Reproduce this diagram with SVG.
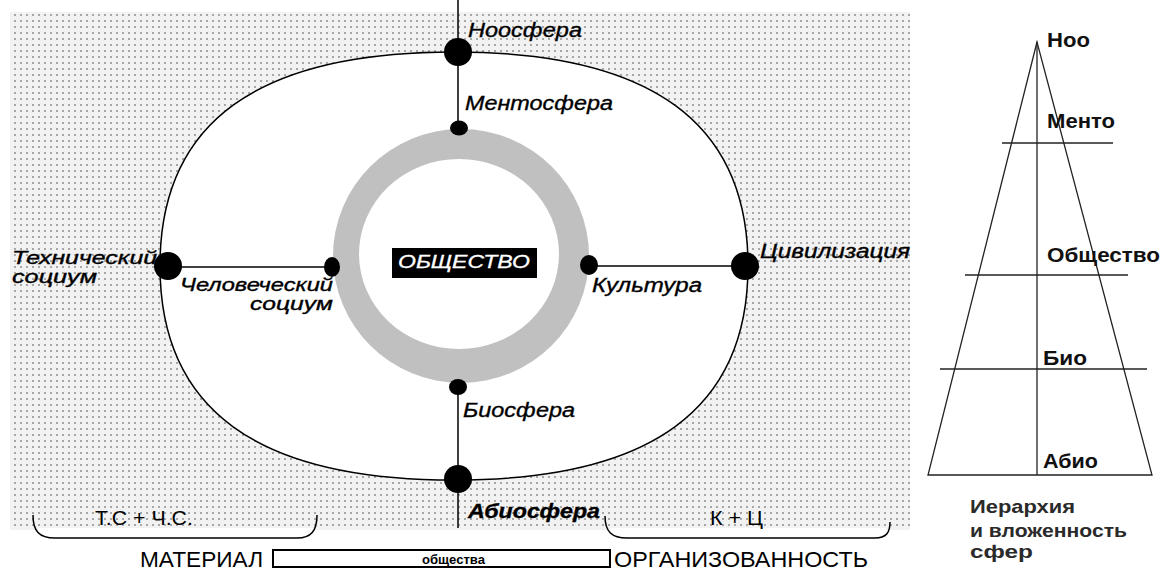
<svg xmlns="http://www.w3.org/2000/svg" width="1162" height="570" viewBox="0 0 1162 570">
<style>
  .it{font-family:"Liberation Sans",Arial,sans-serif;font-style:italic;font-size:20px;fill:#000;stroke:#000;stroke-width:0.35}
  .it2{font-size:18px}
  .rg{font-family:"Liberation Sans",Arial,sans-serif;font-size:21px;fill:#000}
  .bd{font-family:"Liberation Sans",Arial,sans-serif;font-weight:bold;font-size:21px;fill:#111}
  .cap{font-family:"Liberation Sans",Arial,sans-serif;font-weight:bold;font-size:19px;fill:#2a2a2a}
  .ln{stroke:#000;stroke-width:1.5;fill:none}
  .pl{stroke:#222;stroke-width:1.3;fill:none}
  .big{fill:#000}
</style>
<defs>
  <pattern id="dots" width="6" height="6" patternUnits="userSpaceOnUse">
    <rect width="6" height="6" fill="#f2f2f2"/>
    <rect x="2.4" y="2.4" width="1.2" height="1.2" fill="#222"/>
  </pattern>
</defs>
<rect width="1162" height="570" fill="#fff"/>
<g id="background">
  <rect x="10" y="12" width="900" height="518" fill="url(#dots)"/>
  <path id="outer-sphere" d="M454,52 C651,52 748,122.6 748,266 C748,409.4 651,480 454,480 C257,480 160,409.4 160,266 C160,122.6 257,52 454,52 Z" fill="#fff" stroke="#000" stroke-width="1.5"/>
  <path id="ring" d="M333,256 a128,127 0 1,0 256,0 a128,127 0 1,0 -256,0 Z M359,254 a100,95 0 1,0 200,0 a100,95 0 1,0 -200,0 Z" fill="#c0c0c0" fill-rule="evenodd"/>
</g>
<g id="connectors">
  <line class="ln" x1="458" y1="0" x2="458" y2="128"/>
  <line class="ln" x1="458" y1="387" x2="458" y2="528"/>
  <line class="ln" x1="168" y1="267" x2="332" y2="267"/>
  <line class="ln" x1="589" y1="266" x2="745" y2="266"/>
</g>
<g id="node-noosfera">
  <circle class="big" cx="458" cy="52" r="14"/>
  <text class="it" x="468" y="37" textLength="114" lengthAdjust="spacingAndGlyphs">Ноосфера</text>
</g>
<g id="node-mentosfera">
  <ellipse class="big" cx="459" cy="128" rx="9" ry="7.5"/>
  <text class="it" x="465" y="110" textLength="148" lengthAdjust="spacingAndGlyphs">Ментосфера</text>
</g>
<g id="node-tech">
  <circle class="big" cx="168" cy="266" r="14"/>
  <text class="it it2" x="12" y="264" textLength="145" lengthAdjust="spacingAndGlyphs">Технический</text>
  <text class="it it2" x="12" y="283" textLength="85" lengthAdjust="spacingAndGlyphs">социум</text>
</g>
<g id="node-human">
  <ellipse class="big" cx="332" cy="267" rx="8" ry="10"/>
  <text class="it it2" x="180" y="291" textLength="153" lengthAdjust="spacingAndGlyphs">Человеческий</text>
  <text class="it it2" x="250" y="310" textLength="83" lengthAdjust="spacingAndGlyphs">социум</text>
</g>
<g id="node-culture">
  <ellipse class="big" cx="589" cy="265" rx="9" ry="10"/>
  <text class="it" x="592" y="292" textLength="110" lengthAdjust="spacingAndGlyphs">Культура</text>
</g>
<g id="node-civ">
  <circle class="big" cx="745" cy="266" r="14"/>
  <text class="it" x="760" y="258" textLength="150" lengthAdjust="spacingAndGlyphs">Цивилизация</text>
</g>
<g id="node-bio">
  <ellipse class="big" cx="458" cy="387" rx="9" ry="8"/>
  <text class="it" x="463" y="417" textLength="112" lengthAdjust="spacingAndGlyphs">Биосфера</text>
</g>
<g id="node-abio">
  <circle class="big" cx="458" cy="479" r="14"/>
  <text class="it" x="468" y="518" font-weight="bold" textLength="132" lengthAdjust="spacingAndGlyphs">Абиосфера</text>
</g>
<g id="node-society">
  <rect x="392" y="248" width="145" height="30" fill="#000"/>
  <text class="it" x="398" y="268" style="font-size:18px;fill:#fff;stroke:#fff;stroke-width:0.3" textLength="132" lengthAdjust="spacingAndGlyphs">ОБЩЕСТВО</text>
</g>
<g id="bracket-left">
  <rect x="38" y="528" width="275" height="9" fill="#fff"/>
  <path class="ln" stroke-width="1.3" d="M33,515 C33,531 39,538 55,538 L297,538 C311,538 317,531 317,515"/>
  <text class="rg" x="95" y="525" textLength="98" lengthAdjust="spacingAndGlyphs">Т.С + Ч.С.</text>
</g>
<g id="bracket-right">
  <rect x="610" y="528" width="276" height="9" fill="#fff"/>
  <path class="ln" stroke-width="1.3" d="M605,516 C605,532 612,538 627,538 L875,538 C886,538 890,533 890,522"/>
  <text class="rg" x="710" y="525" textLength="53" lengthAdjust="spacingAndGlyphs">К + Ц</text>
</g>
<g id="scale">
  <text class="rg" x="140" y="567" style="font-size:22px" textLength="123" lengthAdjust="spacingAndGlyphs">МАТЕРИАЛ</text>
  <rect x="273" y="550" width="337" height="17" fill="#fff" stroke="#000" stroke-width="2"/>
  <text x="422" y="564" font-family="Liberation Sans, Arial, sans-serif" font-weight="bold" font-size="13" textLength="63" lengthAdjust="spacingAndGlyphs">общества</text>
  <text class="rg" x="614" y="567" style="font-size:22px" textLength="254" lengthAdjust="spacingAndGlyphs">ОРГАНИЗОВАННОСТЬ</text>
</g>
<g id="pyramid">
  <path class="pl" d="M1037,42 L928,475 L1152,475 Z"/>
  <line class="pl" x1="1037" y1="42" x2="1037" y2="475"/>
  <line class="pl" x1="1002" y1="143" x2="1113" y2="143"/>
  <line class="pl" x1="965" y1="275" x2="1128" y2="275"/>
  <line class="pl" x1="940" y1="369" x2="1147" y2="369"/>
  <text class="bd" x="1047" y="47" textLength="43" lengthAdjust="spacingAndGlyphs">Ноо</text>
  <text class="bd" x="1047" y="128" textLength="68" lengthAdjust="spacingAndGlyphs">Менто</text>
  <text class="bd" x="1047" y="262" textLength="113" lengthAdjust="spacingAndGlyphs">Общество</text>
  <text class="bd" x="1043" y="365" textLength="44" lengthAdjust="spacingAndGlyphs">Био</text>
  <text class="bd" x="1043" y="468" textLength="55" lengthAdjust="spacingAndGlyphs">Абио</text>
</g>
<g id="caption">
  <text class="cap" x="970" y="513" textLength="105" lengthAdjust="spacingAndGlyphs">Иерархия</text>
  <text class="cap" x="970" y="537" textLength="157" lengthAdjust="spacingAndGlyphs">и вложенность</text>
  <text class="cap" x="970" y="558" textLength="63" lengthAdjust="spacingAndGlyphs">сфер</text>
</g>
</svg>
